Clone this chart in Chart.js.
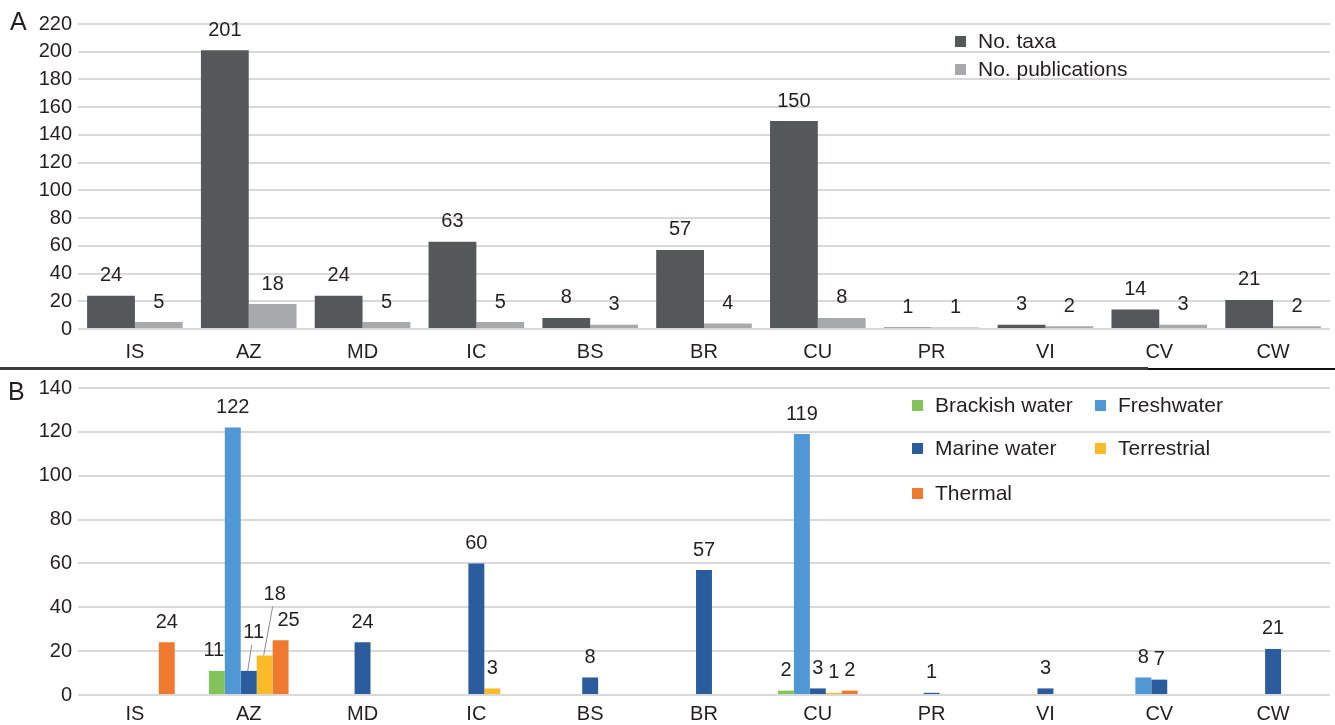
<!DOCTYPE html>
<html>
<head>
<meta charset="utf-8">
<title>Taxa and publications by archipelago</title>
<script src="https://cdn.jsdelivr.net/npm/chart.js@4/dist/chart.umd.min.js"></script>
<style>
  html, body { margin: 0; padding: 0; background: #fff; }
  #wrap { position: relative; width: 1335px; height: 725px; overflow: hidden; font-family: "Liberation Sans", Arial, sans-serif; }
  #boxA { position: absolute; left: 0; top: 0; width: 1335px; height: 368px; }
  #boxB { position: absolute; left: 0; top: 370px; width: 1335px; height: 355px; }
  .panel { position: absolute; font-size: 25px; color: #231f20; line-height: 1; }
  #rule1 { position: absolute; left: 0; top: 367px; width: 1148px; height: 3px; background: #3d3d3d; }
  #rule2 { position: absolute; left: 1148px; top: 368px; width: 187px; height: 2px; background: #111; }
</style>
</head>
<body>
<div id="wrap">
  <div id="boxA"><canvas id="chartA" width="1335" height="368"></canvas></div>
  <div id="rule1"></div><div id="rule2"></div>
  <div id="boxB"><canvas id="chartB" width="1335" height="355"></canvas></div>
  <div class="panel" style="left:10px; top:9px;">A</div>
  <div class="panel" style="left:8px; top:379px;">B</div>
</div>
<script>
// Island groups
const regions = ["IS", "AZ", "MD", "IC", "BS", "BR", "CU", "PR", "VI", "CV", "CW"];

// Panel A: taxa and publications per region
const taxaCount = [24, 201, 24, 63, 8, 57, 150, 1, 3, 14, 21];
const publicationCount = [5, 18, 5, 5, 3, 4, 8, 1, 2, 3, 2];
const yTicksA = { min: 0, max: 220, step: 20 };

// Panel B: taxa by habitat per region
const habitatNames = ["Brackish water", "Freshwater", "Marine water", "Terrestrial", "Thermal"];
const brackish    = [0, 11, 0, 0, 0, 0, 2, 0, 0, 0, 0];
const freshwater  = [0, 122, 0, 0, 0, 0, 119, 0, 0, 8, 0];
const marine      = [0, 11, 24, 60, 8, 57, 3, 1, 3, 7, 21];
const terrestrial = [0, 18, 0, 3, 0, 0, 1, 0, 0, 0, 0];
const thermal     = [24, 25, 0, 0, 0, 0, 2, 0, 0, 0, 0];
const yTicksB = { min: 0, max: 140, step: 20 };

const TEXT = "#231f20";
const FONT = "'Liberation Sans', Arial, sans-serif";
const GRID = "#d9d9d9";

// Value labels above bars; a few crowded ones are nudged or pulled out with a leader line
function valueLabels(tweaks) {
  return {
    id: "valueLabels",
    afterDatasetsDraw(chart) {
      const ctx = chart.ctx;
      ctx.save();
      ctx.font = "20px " + FONT;
      ctx.fillStyle = TEXT;
      ctx.textAlign = "center";
      ctx.textBaseline = "middle";
      chart.data.datasets.forEach((ds, di) => {
        chart.getDatasetMeta(di).data.forEach((bar, i) => {
          const v = ds.data[i];
          if (!v) return;
          const t = (tweaks[di] && tweaks[di][i]) || {};
          const lx = bar.x + (t.dx || 0);
          const ly = bar.y - 20 + (t.dy || 0);
          if (t.leader) {
            ctx.strokeStyle = "#8c8c8c";
            ctx.lineWidth = 1;
            ctx.beginPath();
            ctx.moveTo(lx - 2, ly + 12);
            ctx.lineTo(bar.x - 1, bar.y);
            ctx.stroke();
          }
          ctx.fillText(String(v), lx, ly);
        });
      });
      ctx.restore();
    }
  };
}

// Legend drawn inside the plot area
function boxLegend(items) {
  return {
    id: "boxLegend",
    afterDraw(chart) {
      const ctx = chart.ctx;
      ctx.save();
      ctx.font = "21px " + FONT;
      ctx.textBaseline = "middle";
      ctx.textAlign = "left";
      items.forEach(it => {
        ctx.fillStyle = it.color;
        ctx.fillRect(it.x, it.y - 5, 11, 11);
        ctx.fillStyle = TEXT;
        ctx.fillText(it.label, it.x + 23, it.y + 1);
      });
      ctx.restore();
    }
  };
}

function baseOptions(ticks, padTop, xAxisHeight, xPad, catPct) {
  return {
    responsive: false,
    animation: false,
    events: [],
    layout: { padding: { top: padTop, right: 5, left: 0, bottom: 0 } },
    plugins: { legend: { display: false }, tooltip: { enabled: false } },
    datasets: { bar: { categoryPercentage: catPct, barPercentage: 1.0, borderWidth: 0 } },
    scales: {
      x: {
        grid: { display: false, drawTicks: false },
        border: { display: false },
        ticks: { color: TEXT, font: { size: 20, family: FONT }, padding: xPad, maxRotation: 0, autoSkip: false },
        afterFit(s) { s.height = xAxisHeight; }
      },
      y: {
        min: ticks.min, max: ticks.max,
        grid: { color: GRID, lineWidth: 2, drawTicks: false },
        border: { display: false },
        ticks: { stepSize: ticks.step, color: TEXT, font: { size: 20, family: FONT }, padding: 6 },
        afterFit(s) { s.width = 78; }
      }
    }
  };
}

// Panel A
new Chart(document.getElementById("chartA"), {
  type: "bar",
  data: {
    labels: regions,
    datasets: [
      { label: "No. taxa", data: taxaCount, backgroundColor: "#555859" },
      { label: "No. publications", data: publicationCount, backgroundColor: "#a7a9ab" }
    ]
  },
  options: baseOptions(yTicksA, 24, 39, 11, 0.84),
  plugins: [
    valueLabels({}),
    boxLegend([
      { label: "No. taxa", color: "#555859", x: 955, y: 41 },
      { label: "No. publications", color: "#a7a9ab", x: 955, y: 69 }
    ])
  ]
});

// Panel B
const habitatColors = ["#82c45b", "#4f98d5", "#2b5c9d", "#fbba27", "#ef7a2f"];
const habitatSeries = [brackish, freshwater, marine, terrestrial, thermal];
const az = regions.indexOf("AZ");
const tweaksB = {
  0: { [az]: { dx: -3 } },
  2: { [az]: { dx: 5, dy: -18, leader: true } },
  3: { [az]: { dx: 10, dy: -41, leader: true } },
  4: { [az]: { dx: 8 } }
};

new Chart(document.getElementById("chartB"), {
  type: "bar",
  data: {
    labels: regions,
    datasets: habitatSeries.map((d, k) => ({ label: habitatNames[k], data: d, backgroundColor: habitatColors[k] }))
  },
  options: baseOptions(yTicksB, 15, 30, 7, 0.70),
  plugins: [
    valueLabels(tweaksB),
    boxLegend([
      { label: habitatNames[0], color: habitatColors[0], x: 912, y: 35 },
      { label: habitatNames[1], color: habitatColors[1], x: 1095, y: 35 },
      { label: habitatNames[2], color: habitatColors[2], x: 912, y: 78 },
      { label: habitatNames[3], color: habitatColors[3], x: 1095, y: 78 },
      { label: habitatNames[4], color: habitatColors[4], x: 912, y: 123 }
    ])
  ]
});
</script>
</body>
</html>
